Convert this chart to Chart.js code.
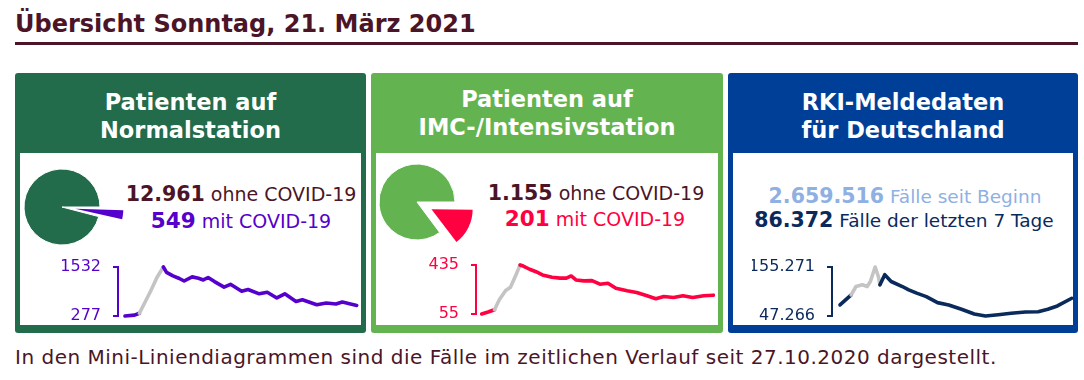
<!DOCTYPE html>
<html><head><meta charset="utf-8">
<script src="https://cdn.jsdelivr.net/npm/chart.js@4/dist/chart.umd.min.js"></script>
<style>
html,body{margin:0;padding:0;background:#fff;}
body{width:1084px;height:380px;overflow:hidden;position:relative;font-family:"DejaVu Sans",Verdana,sans-serif;}
.abs{position:absolute;white-space:nowrap;}
#title{left:15px;top:9.7px;font-size:24px;line-height:28px;font-weight:bold;color:#4b1527;}
#rule{left:15px;top:42px;width:1063px;height:3px;background:#4b1527;}
.panel{position:absolute;top:73px;height:260px;border-radius:3px;}
.inner{position:absolute;left:5px;right:5px;top:80px;bottom:8px;background:#fff;}
.head{position:absolute;left:0;right:0;text-align:center;color:#fff;font-weight:bold;font-size:22.5px;line-height:28px;}
.num{position:absolute;text-align:center;line-height:26px;font-size:19px;width:300px;}
.num b{font-size:20.5px;}
.num b.big{font-size:21.5px;}
#foot{left:15px;top:345px;font-size:20px;line-height:24px;letter-spacing:0.5px;color:#4b1527;}
canvas{position:absolute;}
</style></head><body>
<div id="title" class="abs">Übersicht Sonntag, 21. März 2021</div>
<div id="rule" class="abs"></div>

<div class="panel" style="left:15px;width:351px;background:#226b4b;"><div class="inner"></div>
  <div class="head" style="top:15.2px;">Patienten auf<br>Normalstation</div></div>
<div class="panel" style="left:371px;width:352px;background:#63b450;"><div class="inner"></div>
  <div class="head" style="top:11.9px;">Patienten auf<br>IMC-/Intensivstation</div></div>
<div class="panel" style="left:728px;width:350px;background:#003f98;"><div class="inner"></div>
  <div class="head" style="top:14.5px;">RKI-Meldedaten<br>für Deutschland</div></div>

<div class="num abs" style="left:91px;top:180.9px;color:#4b1527;"><b>12.961</b> ohne COVID-19</div>
<div class="num abs" style="left:91px;top:207.6px;color:#5500cc;"><b class="big">549</b> mit COVID-19</div>
<div class="num abs" style="left:446px;top:179.9px;color:#4b1527;"><b>1.155</b> ohne COVID-19</div>
<div class="num abs" style="left:445px;top:205.6px;color:#ff0040;"><b class="big">201</b> mit COVID-19</div>
<div class="num abs" style="left:755px;top:182.9px;color:#8eb0e2;font-size:18.5px;"><b>2.659.516</b> Fälle seit Beginn</div>
<div class="num abs" style="left:754px;top:206.9px;color:#0a2a5b;font-size:18.5px;"><b>86.372</b> Fälle der letzten 7 Tage</div>

<div id="foot" class="abs">In den Mini-Liniendiagrammen sind die Fälle im zeitlichen Verlauf seit 27.10.2020 dargestellt.</div>

<canvas id="pie1" width="140" height="140" style="left:-8px;top:137px;"></canvas>
<canvas id="pie2" width="150" height="150" style="left:342px;top:127px;"></canvas>
<canvas id="line1" width="322" height="72" style="left:40px;top:255px;"></canvas>
<canvas id="line2" width="322" height="72" style="left:396px;top:253px;"></canvas>
<canvas id="line3" width="322" height="72" style="left:752px;top:255px;"></canvas>

<script>
// ---- data ----
const pieLabels = ['mit COVID-19', 'ohne COVID-19'];
const normalPie = [549, 12961];
const intensivPie = [201, 1155];

const normalDays   = [0,6,9,16,20,24,26,30,34,37,42,46,49,52,56,62,66,73,77,84,89,95,100,107,111,120,126,132,136,145];
const normalValues = [277,300,348,912,1263,1532,1394,1305,1237,1174,1279,1245,1200,1263,1158,1017,1088,912,957,845,886,740,845,651,695,565,609,583,635,549];
const normalTicks  = ['277','1532'];

const intensivDays   = [0,4,8,11,15,18,21,24,26,30,34,38,44,49,53,56,59,64,69,74,79,84,91,97,103,109,114,120,126,132,139,145];
const intensivValues = [55,70,88,165,237,263,345,435,427,402,383,358,340,333,333,350,319,312,314,286,294,255,235,222,198,173,191,183,196,183,196,201];
const intensivTicks  = ['55','435'];

const rkiDays   = [0,7,10,14,17,19,22,24,25,28,32,39,43,48,54,61,68,76,84,91,99,107,116,124,130,136,145];
const rkiValues = [71660,93840,112250,116020,112250,123340,155271,134420,116020,138200,123340,112250,104930,97610,90070,76760,71660,62120,51700,47266,50150,53250,56140,56800,62120,69440,86372];
const rkiTicks  = ['47.266','155.271'];

const FONT = '"DejaVu Sans", Verdana, sans-serif';
Chart.defaults.font.family = FONT;

function pie(id, values, colors, offset, pad) {
  new Chart(document.getElementById(id), {
    type: 'pie',
    data: { labels: pieLabels, datasets: [{ data: values, backgroundColor: colors,
      borderColor: '#fff', borderWidth: [0, 1], offset: [offset, 0], hoverOffset: 0 }] },
    options: { responsive: false, animation: false, devicePixelRatio: 1, rotation: 90,
      layout: { padding: pad },
      plugins: { legend: { display: false }, tooltip: { enabled: false } } }
  });
}
pie('pie1', normalPie, ['#5500cc', '#226b4b'], 53.6, 4.7);
pie('pie2', intensivPie, ['#ff0040', '#63b450'], 64.8, 4.1);

function mini(id, days, values, tickLabels, color, g0, g1, L) {
  const pts = days.map((d, i) => ({ x: d, y: values[i] }));
  const lo = Math.min(...values), hi = Math.max(...values);
  new Chart(document.getElementById(id), {
    type: 'line',
    data: { datasets: [{ data: pts, borderColor: color, borderWidth: 3.6, pointRadius: 0,
      tension: 0, clip: false, borderCapStyle: 'round', borderJoinStyle: 'round',
      segment: { borderColor: c => (c.p0DataIndex >= g0 && c.p1DataIndex <= g1) ? '#c4c4c4' : color } }] },
    options: { responsive: false, animation: false, devicePixelRatio: 1,
      layout: { padding: { top: L.pt, bottom: L.pb, left: 0, right: 0 } },
      plugins: { legend: { display: false }, tooltip: { enabled: false } },
      scales: {
        x: { type: 'linear', display: false, min: L.xmin, max: L.xmax },
        y: { min: lo, max: hi,
          afterBuildTicks: s => { s.ticks = [{ value: lo }, { value: hi }]; },
          afterFit: s => { s.width = L.yw; s.paddingTop = 0; s.paddingBottom = 0; },
          ticks: { color: color, padding: 12, font: { size: 16 }, callback: (v, i) => tickLabels[i] },
          grid: { drawOnChartArea: false, drawTicks: true, tickLength: 5, tickColor: color, tickWidth: 2, color: color, lineWidth: 2 },
          border: { display: true, color: color, width: 2 } }
      } }
  });
}
mini('line1', normalDays, normalValues, normalTicks, '#5500cc', 2, 5, { pt: 12, pb: 11, yw: 78, xmin: -4.38, xmax: 148.3 });
mini('line2', intensivDays, intensivValues, intensivTicks, '#ff0040', 2, 7, { pt: 12, pb: 11, yw: 80, xmin: -3.57, xmax: 147.9 });
mini('line3', rkiDays, rkiValues, rkiTicks, '#0a2a5b', 1, 8, { pt: 12, pb: 11, yw: 80, xmin: -5.0, xmax: 146.4 });
</script>
</body></html>
